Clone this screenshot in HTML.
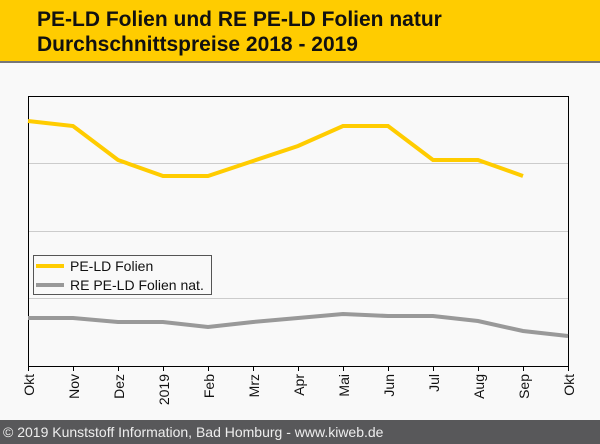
<!DOCTYPE html>
<html><head><meta charset="utf-8"><style>
body{margin:0;width:600px;height:444px;background:#f9f9f9;font-family:"Liberation Sans",sans-serif;overflow:hidden;position:relative}
.hd{position:absolute;left:0;top:0;width:600px;height:61px;background:#ffcc00;border-bottom:2px solid #777}
.hd div{position:absolute;left:37px;top:7px;font-weight:bold;font-size:21px;line-height:25px;color:#111}
.ft{position:absolute;left:0;top:420px;width:600px;height:24px;background:#58585a;color:#eee;font-size:14px;line-height:24px;padding-left:3px}
</style></head><body>
<div class="hd"><div>PE-LD Folien und RE PE-LD Folien natur<br>Durchschnittspreise 2018 - 2019</div></div>
<svg width="600" height="444" style="position:absolute;left:0;top:0">
<g stroke="#ccc" stroke-width="1"><line x1="28" y1="163.5" x2="568" y2="163.5"/><line x1="28" y1="231.5" x2="568" y2="231.5"/><line x1="28" y1="298.5" x2="568" y2="298.5"/></g>
<polyline fill="none" stroke="#000" stroke-width="1" points="28.5,366 28.5,96.5 568.5,96.5 568.5,366"/>
<line x1="28" y1="366.5" x2="569" y2="366.5" stroke="#000"/>
<g stroke="#000">
<line x1="28.5" y1="366" x2="28.5" y2="371"/><line x1="73.5" y1="366" x2="73.5" y2="371"/><line x1="118.5" y1="366" x2="118.5" y2="371"/><line x1="163.5" y1="366" x2="163.5" y2="371"/><line x1="208.5" y1="366" x2="208.5" y2="371"/><line x1="253.5" y1="366" x2="253.5" y2="371"/><line x1="298.5" y1="366" x2="298.5" y2="371"/><line x1="343.5" y1="366" x2="343.5" y2="371"/><line x1="388.5" y1="366" x2="388.5" y2="371"/><line x1="433.5" y1="366" x2="433.5" y2="371"/><line x1="478.5" y1="366" x2="478.5" y2="371"/><line x1="523.5" y1="366" x2="523.5" y2="371"/><line x1="568.5" y1="366" x2="568.5" y2="371"/>
</g>
<polyline fill="none" stroke="#ffcc00" stroke-width="4" points="28,121 73,126 118,160 163,176 208,176 253,161 298,146 343,126 388,126 433,160 478,160 523,176"/>
<polyline fill="none" stroke="#999" stroke-width="4" points="28,318 73,318 118,322 163,322 208,327 253,322 298,318 343,314 388,316 433,316 478,321 523,331 568,336"/>
<g font-size="14" fill="#111" text-anchor="end">
<text transform="translate(34,374) rotate(-90)">Okt</text>
<text transform="translate(79,374) rotate(-90)">Nov</text>
<text transform="translate(124,374) rotate(-90)">Dez</text>
<text transform="translate(169,374) rotate(-90)">2019</text>
<text transform="translate(214,374) rotate(-90)">Feb</text>
<text transform="translate(259,374) rotate(-90)">Mrz</text>
<text transform="translate(304,374) rotate(-90)">Apr</text>
<text transform="translate(349,374) rotate(-90)">Mai</text>
<text transform="translate(394,374) rotate(-90)">Jun</text>
<text transform="translate(439,374) rotate(-90)">Jul</text>
<text transform="translate(484,374) rotate(-90)">Aug</text>
<text transform="translate(529,374) rotate(-90)">Sep</text>
<text transform="translate(574,374) rotate(-90)">Okt</text>
</g>
<rect x="33.5" y="255.5" width="178" height="39" fill="#f9f9f9" stroke="#555"/>
<line x1="36" y1="266" x2="64" y2="266" stroke="#ffcc00" stroke-width="4"/>
<line x1="36" y1="285" x2="64" y2="285" stroke="#999" stroke-width="4"/>
<text x="70" y="271" font-size="14" fill="#111">PE-LD Folien</text>
<text x="70" y="290" font-size="14" fill="#111">RE PE-LD Folien nat.</text>
</svg>
<div class="ft">© 2019 Kunststoff Information, Bad Homburg - www.kiweb.de</div>
</body></html>
